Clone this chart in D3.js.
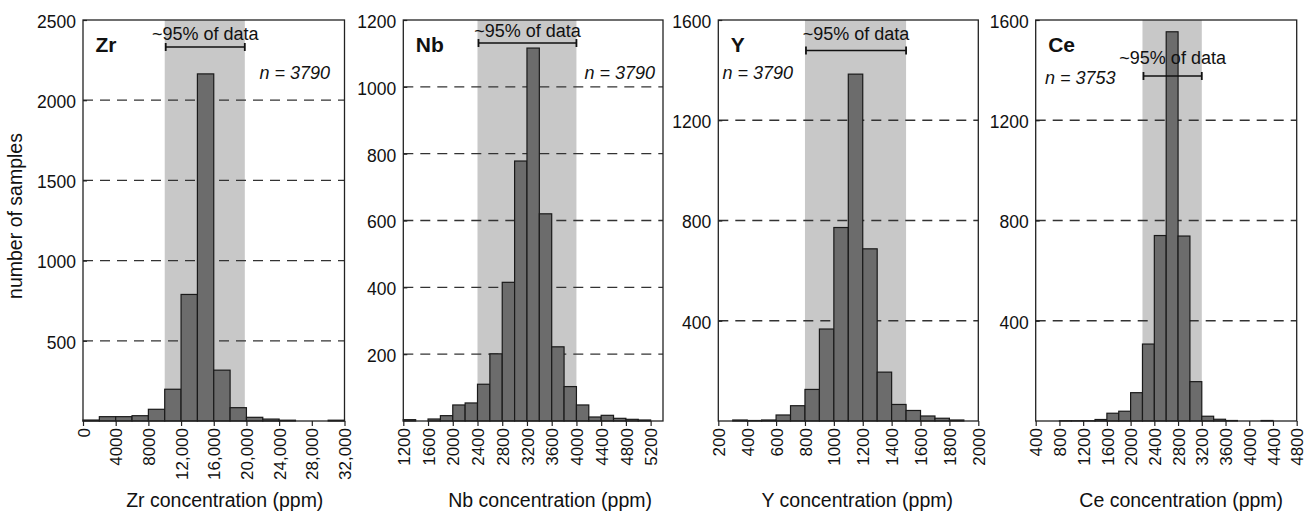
<!DOCTYPE html>
<html>
<head>
<meta charset="utf-8">
<script src="https://cdn.jsdelivr.net/npm/d3@7"></script>
<style>
  body { margin: 0; background: #fff; }
  svg text { font-family: "Liberation Sans", Arial, sans-serif; fill: #111; }
</style>
</head>
<body>
<div id="chart"></div>
<script>
// histogram counts, one per bin
var zrCounts = [6, 27, 27, 33, 73, 198, 789, 2164, 317, 83, 23, 12, 5, 0, 0, 5];   // bins of 2000 from 0
var nbCounts = [4, 0, 6, 16, 48, 54, 110, 201, 415, 778, 1116, 620, 222, 103, 48, 12, 17, 8, 5, 3]; // bins of 200 from 1200
var yCounts  = [4, 2, 4, 24, 61, 126, 367, 772, 1384, 687, 195, 66, 42, 20, 11, 4]; // bins of 100 from 300
var ceCounts = [1, 1, 1, 6, 31, 39, 113, 307, 740, 1553, 738, 157, 19, 7, 2, 0, 0, 2]; // bins of 200 from 800

var zrTicks = [0, 4000, 8000, 12000, 16000, 20000, 24000, 28000, 32000];
var nbTicks = [1200, 1600, 2000, 2400, 2800, 3200, 3600, 4000, 4400, 4800, 5200];
var yTicks  = [200, 400, 600, 800, 1000, 1200, 1400, 1600, 1800, 2000];
var ceTicks = [400, 800, 1200, 1600, 2000, 2400, 2800, 3200, 3600, 4000, 4400, 4800];

var zrYTicks = [500, 1000, 1500, 2000, 2500];
var nbYTicks = [200, 400, 600, 800, 1000, 1200];
var yYTicks  = [400, 800, 1200, 1600];
var ceYTicks = [400, 800, 1200, 1600];

// ~95% of data range
var zrRange = [10000, 19800];
var nbRange = [2400, 4000];
var yRange  = [800, 1500];
var ceRange = [2200, 3200];

var panels = [
  {name: "Zr", counts: zrCounts, start: 0,    bin: 2000, xdom: [0, 32000],   ymax: 2500, xt: zrTicks, yt: zrYTicks,
   range: zrRange, n: "3790", left: 83,     right: 344.5,  brY: 47, txY: 40, nX: 330, nY: 79, nAnchor: "end", titleDx: 11},
  {name: "Nb", counts: nbCounts, start: 1200, bin: 200,  xdom: [1200, 5400], ymax: 1200, xt: nbTicks, yt: nbYTicks,
   range: nbRange, n: "3790", left: 403.3,  right: 663,    brY: 43, txY: 37, nX: 655, nY: 79, nAnchor: "end", titleDx: 17},
  {name: "Y",  counts: yCounts,  start: 300,  bin: 100,  xdom: [200, 2000],  ymax: 1600, xt: yTicks,  yt: yYTicks,
   range: yRange,  n: "3790", left: 718.3,  right: 978.3,  brY: 50.5, txY: 40, nX: 722.5, nY: 79, nAnchor: "start", titleDx: 9},
  {name: "Ce", counts: ceCounts, start: 800,  bin: 200,  xdom: [400, 4800],  ymax: 1600, xt: ceTicks, yt: ceYTicks,
   range: ceRange, n: "3753", left: 1035.7, right: 1296.7, brY: 76, txY: 64, nX: 1045, nY: 83.5, nAnchor: "start", titleDx: 15}
];

var W = 1311, H = 514, plotTop = 20, plotBottom = 421;

var svg = d3.select("#chart").append("svg")
  .attr("width", W).attr("height", H);

svg.append("rect").attr("width", W).attr("height", H).attr("fill", "#fff");

// x labels: comma only from 10,000 up
var fmt = function(v) { return v >= 10000 ? d3.format(",")(v) : String(v); };

panels.forEach(function(p) {
  var x = d3.scaleLinear().domain(p.xdom).range([p.left, p.right]);
  var y = d3.scaleLinear().domain([0, p.ymax]).range([plotBottom, plotTop]);
  var g = svg.append("g");

  // shaded 95% band
  g.append("rect")
    .attr("x", x(p.range[0])).attr("y", plotTop)
    .attr("width", x(p.range[1]) - x(p.range[0]))
    .attr("height", plotBottom - plotTop)
    .attr("fill", "#c8c8c8");

  // dashed gridlines (not at top)
  g.selectAll("line.grid")
    .data(p.yt.filter(function(v) { return v < p.ymax; }))
    .enter().append("line")
    .attr("class", "grid")
    .attr("x1", p.left).attr("x2", p.right)
    .attr("y1", function(d) { return y(d); })
    .attr("y2", function(d) { return y(d); })
    .attr("stroke", "#333").attr("stroke-width", 1.3)
    .attr("stroke-dasharray", "10,7");

  // bars
  g.selectAll("rect.bar")
    .data(p.counts.map(function(c, i) { return {x0: p.start + i * p.bin, c: c}; })
      .filter(function(d) { return d.c > 0; }))
    .enter().append("rect")
    .attr("class", "bar")
    .attr("x", function(d) { return x(d.x0); })
    .attr("width", function(d) { return x(d.x0 + p.bin) - x(d.x0); })
    .attr("y", function(d) { return y(d.c); })
    .attr("height", function(d) { return plotBottom - y(d.c); })
    .attr("fill", "#6c6c6c")
    .attr("stroke", "#1a1a1a").attr("stroke-width", 1.2);

  // frame
  g.append("rect")
    .attr("x", p.left).attr("y", plotTop)
    .attr("width", p.right - p.left).attr("height", plotBottom - plotTop)
    .attr("fill", "none").attr("stroke", "#222").attr("stroke-width", 1.3);

  // y axis
  var ya = g.append("g").attr("transform", "translate(" + p.left + ",0)")
    .call(d3.axisLeft(y).tickValues(p.yt).tickFormat(d3.format("d"))
      .tickSizeInner(-4).tickSizeOuter(0).tickPadding(7));
  ya.select(".domain").remove();
  ya.selectAll("line").attr("stroke", "#222").attr("stroke-width", 1.2);
  ya.selectAll("text").attr("font-size", 17.5).attr("fill", "#111")
    .attr("font-family", "Liberation Sans, Arial, sans-serif").attr("dy", "0.42em");

  // x axis
  var xa = g.append("g").attr("transform", "translate(0," + plotBottom + ")")
    .call(d3.axisBottom(x).tickValues(p.xt).tickFormat(fmt).tickSizeInner(5).tickSizeOuter(0));
  xa.select(".domain").remove();
  xa.selectAll("line").attr("stroke", "#222").attr("stroke-width", 1.2);
  xa.selectAll("text")
    .attr("font-size", 17).attr("fill", "#111")
    .attr("font-family", "Liberation Sans, Arial, sans-serif")
    .attr("transform", "rotate(-90)")
    .attr("x", -7).attr("y", 0).attr("dy", "0.36em")
    .style("text-anchor", "end");

  // axis title
  g.append("text")
    .attr("x", (p.left + p.right) / 2 + p.titleDx).attr("y", 507)
    .attr("text-anchor", "middle").attr("font-size", 19.5)
    .text(p.name + " concentration (ppm)");

  // element label
  g.append("text")
    .attr("x", p.left + 12.5).attr("y", 52)
    .attr("font-size", 21).attr("font-weight", "bold")
    .text(p.name);

  // n label
  var nt = g.append("text")
    .attr("x", p.nX).attr("y", p.nY)
    .attr("text-anchor", p.nAnchor)
    .attr("font-size", 18).attr("font-style", "italic");
  nt.append("tspan").text("n");
  nt.append("tspan").text(" = " + p.n);

  // ~95% bracket
  var bx0 = x(p.range[0]) + 1, bx1 = x(p.range[1]);
  g.append("line").attr("x1", bx0).attr("x2", bx1).attr("y1", p.brY).attr("y2", p.brY)
    .attr("stroke", "#111").attr("stroke-width", 1.5);
  [bx0, bx1].forEach(function(bx) {
    g.append("line").attr("x1", bx).attr("x2", bx).attr("y1", p.brY - 4).attr("y2", p.brY + 4)
      .attr("stroke", "#111").attr("stroke-width", 1.8);
  });
  g.append("text")
    .attr("x", (bx0 + bx1) / 2).attr("y", p.txY)
    .attr("text-anchor", "middle").attr("font-size", 18)
    .text("~95% of data");
});

// shared y label
svg.append("text")
  .attr("transform", "translate(22,216) rotate(-90)")
  .attr("text-anchor", "middle").attr("font-size", 19.5)
  .text("number of samples");
</script>
</body>
</html>
